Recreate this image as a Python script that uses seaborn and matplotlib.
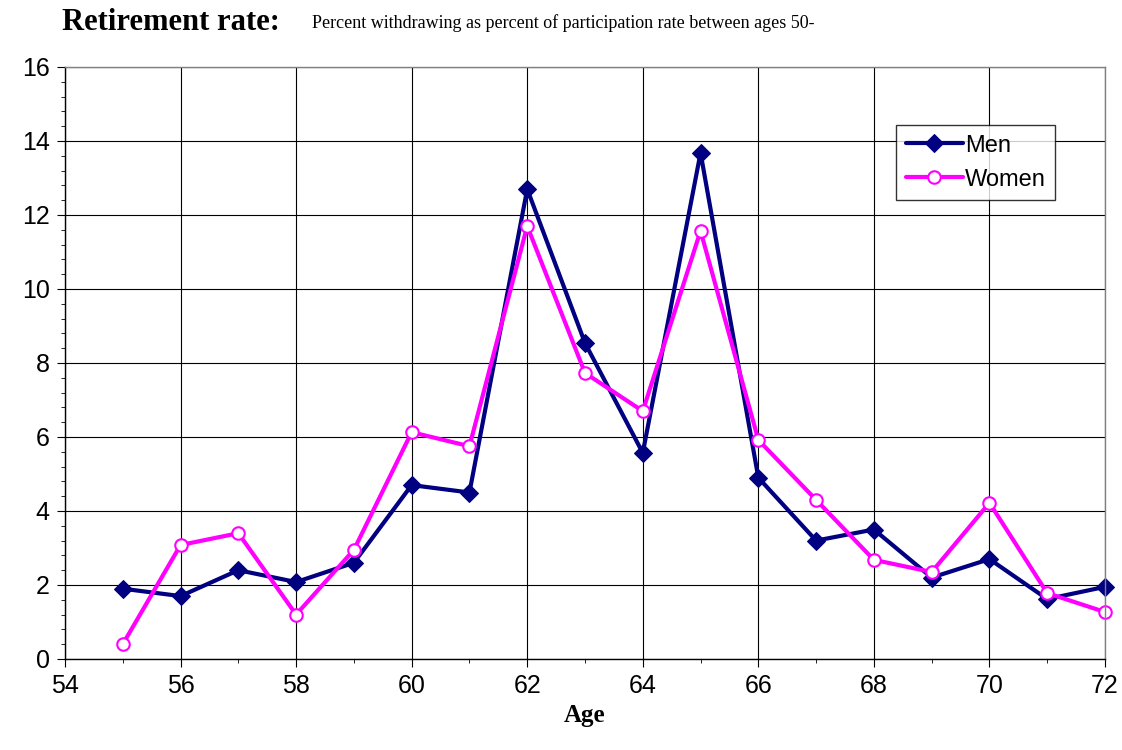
import matplotlib
matplotlib.use("Agg")
import matplotlib.pyplot as plt
import seaborn as sns
import pandas as pd
from matplotlib.ticker import MultipleLocator

ages = list(range(55, 73))
men = [1.9, 1.7, 2.4, 2.08, 2.6, 4.7, 4.5, 12.7, 8.54, 5.57, 13.68, 4.9, 3.2, 3.5, 2.2, 2.7, 1.62, 1.95]
women = [0.4, 3.08, 3.4, 1.2, 2.95, 6.13, 5.75, 11.7, 7.73, 6.7, 11.57, 5.92, 4.3, 2.68, 2.35, 4.22, 1.78, 1.27]

df = pd.DataFrame({"Age": ages * 2, "Rate": men + women,
                   "Sex": ["Men"] * len(ages) + ["Women"] * len(ages)})

sns.set_style("white")
plt.rcParams['font.family'] = ['Liberation Sans', 'DejaVu Sans']
plt.rcParams['text.color'] = 'black'
fig = plt.figure(figsize=(11.22, 7.5), dpi=100)
ax = fig.add_axes([65/1122, 1-659/750, (1105-65)/1122, (659-67)/750])

sns.lineplot(data=df[df.Sex == "Men"], x="Age", y="Rate", ax=ax, color="#000080", lw=3,
             marker="D", markersize=9, markeredgecolor="#000080", label="Men", clip_on=False)
sns.lineplot(data=df[df.Sex == "Women"], x="Age", y="Rate", ax=ax, color="#FF00FF", lw=3,
             marker="o", markersize=9, markerfacecolor="white", markeredgecolor="#FF00FF",
             markeredgewidth=1.5, label="Women", clip_on=False)

ax.set_xlim(54, 72)
ax.set_ylim(0, 16)
ax.xaxis.set_major_locator(MultipleLocator(2))
ax.xaxis.set_minor_locator(MultipleLocator(1))
ax.yaxis.set_major_locator(MultipleLocator(2))
ax.yaxis.set_minor_locator(MultipleLocator(0.4))
ax.grid(True, which="major", color="black", lw=0.8)
for s in ax.spines.values():
    s.set_color("#808080"); s.set_linewidth(1)
ax.spines['left'].set_color("black"); ax.spines['bottom'].set_color("black")
ax.tick_params(which="major", direction="out", length=6, labelsize=18, left=True, bottom=True,
               color="black", labelcolor="black", pad=5)
ax.tick_params(which="minor", direction="out", length=3, left=True, bottom=True, color="black")
ax.set_xlabel("Age", fontsize=18, fontweight="bold", family="Liberation Serif", labelpad=4, color="black")
ax.set_ylabel("")

leg = ax.legend(loc="upper right", bbox_to_anchor=(0.9635, 0.9215), fontsize=17, frameon=True,
                fancybox=False, edgecolor="black", handlelength=2.4, borderpad=0.4,
                handletextpad=0.1, labelspacing=0.5)
leg.get_frame().set_linewidth(1)
for t in leg.get_texts():
    t.set_color("black")

fig.text(62/1122, 1-22/750, "Retirement rate:", fontsize=22, fontweight="bold",
         family="Liberation Serif", va="center")
fig.text(312/1122, 1-23/750, "Percent withdrawing as percent of participation rate between ages 50-",
         fontsize=13, family="Liberation Serif", va="center")

fig.savefig("out.png", dpi=100)
